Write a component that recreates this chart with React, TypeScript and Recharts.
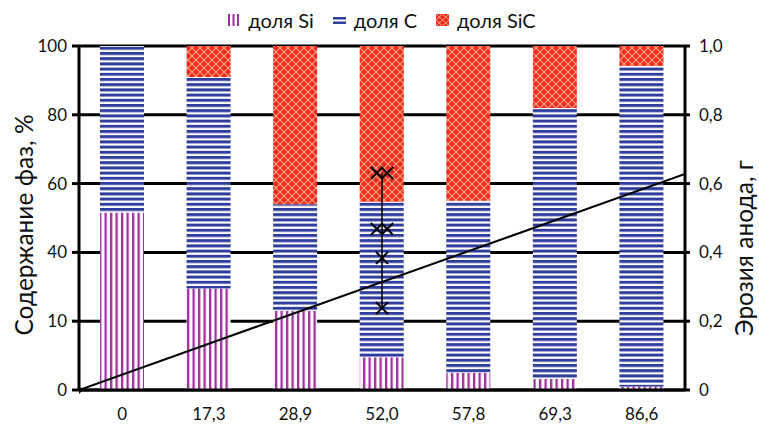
import React from "react";
import {
  ComposedChart,
  Bar,
  Scatter,
  XAxis,
  YAxis,
  CartesianGrid,
} from "recharts";

const categories = ["0", "17,3", "28,9", "52,0", "57,8", "69,3", "86,6"];
const siShare = [51.6, 29.5, 23.0, 9.5, 5.0, 3.3, 1.0];
const cShare = [48.4, 61.5, 31.0, 45.2, 50.0, 78.7, 93.2];
const sicShare = [0, 9.0, 46.0, 45.3, 45.0, 18.0, 5.8];

const leftTicks = [0, 20, 40, 60, 80, 100];
const leftTickLabels = ["0", "10", "40", "60", "80", "100"];
const rightTicks = [0, 0.2, 0.4, 0.6, 0.8, 1.0];
const rightTickLabels = ["0", "0,2", "0,4", "0,6", "0,8", "1,0"];

// trend line (x in category-position units 0..7, y in grams)
const trendX = [0, 7];
const trendY = [0, 0.628];

// erosion measurements at 52,0 (category index 3 -> centre 3.5)
const erosionX = [3.44, 3.56, 3.44, 3.56, 3.5, 3.5];
const erosionY = [0.631, 0.631, 0.468, 0.468, 0.384, 0.238];
const rangeX = [3.5, 3.5];
const rangeY = [0.631, 0.238];

const legendItems = ["доля Si", "доля C", "доля SiC"];

const data = categories.map((cat, i) => ({
  cat,
  si: siShare[i],
  c: cShare[i],
  sic: sicShare[i],
}));
const trendData = trendX.map((x, i) => ({ x, y: trendY[i] }));
const erosionData = erosionX.map((x, i) => ({ x, y: erosionY[i] }));
const rangeData = rangeX.map((x, i) => ({ x, y: rangeY[i] }));

const FONT = "Lato, 'Open Sans', sans-serif";

const Patterns = () => (
  <svg width={0} height={0} style={{ position: "absolute" }}>
    <defs>
      <pattern id="patSi" patternUnits="userSpaceOnUse" width={5.5} height={10}>
        <rect width={5.5} height={10} fill="#ffffff" />
        <rect x={0} y={0} width={2.3} height={10} fill="#9e2f9e" />
      </pattern>
      <pattern id="patC" patternUnits="userSpaceOnUse" width={10} height={5.2}>
        <rect width={10} height={5.2} fill="#ffffff" />
        <rect x={0} y={0} width={10} height={3} fill="#2f3d9c" />
      </pattern>
      <pattern id="patSiC" patternUnits="userSpaceOnUse" width={8} height={8}>
        <rect width={8} height={8} fill="#ee2a1e" />
        <path d="M0,0 L8,8 M8,0 L0,8" stroke="#f7a27e" strokeWidth={1.2} />
      </pattern>
    </defs>
  </svg>
);

const XMark = (props: any) => {
  const { cx, cy } = props;
  if (cx == null || cy == null) return null;
  const s = 6;
  return (
    <g>
      <path
        d={`M${cx - s},${cy - s} L${cx + s},${cy + s} M${cx + s},${cy - s} L${cx - s},${cy + s}`}
        stroke="#000"
        strokeWidth={2}
      />
    </g>
  );
};

const TrendMark = (props: any) => {
  const { cx, cy, payload } = props;
  if (!payload || payload.x !== 0) return null;
  const s = 4;
  return (
    <path
      d={`M${cx},${cy - s} L${cx + s},${cy} L${cx},${cy + s} L${cx - s},${cy} Z`}
      fill="#000"
    />
  );
};

const NoMark = () => null;

const swatch = (i: number) => {
  if (i === 0)
    return (
      <svg width={13} height={14}>
        <rect x={1} y={1} width={2} height={12} fill="#9e2f9e" />
        <rect x={5.5} y={1} width={2} height={12} fill="#9e2f9e" />
        <rect x={10} y={1} width={2} height={12} fill="#9e2f9e" />
      </svg>
    );
  if (i === 1)
    return (
      <svg width={13} height={14}>
        <rect x={0} y={4} width={13} height={2.5} fill="#2f3d9c" />
        <rect x={0} y={8.5} width={13} height={2.5} fill="#2f3d9c" />
      </svg>
    );
  return (
    <svg width={13} height={14}>
      <rect x={0} y={1} width={13} height={12} fill="#ee2a1e" />
      <path d="M0,1 L13,13 M13,1 L0,13 M6.5,1 L13,7 L6.5,13 L0,7 Z" stroke="#f7a27e" strokeWidth={1} fill="none" />
    </svg>
  );
};

export default function App() {
  return (
    <div
      style={{
        position: "absolute",
        left: 0,
        top: 0,
        width: 759,
        height: 424,
        background: "#fff",
        fontFamily: FONT,
      }}
    >
      <Patterns />
      <div
        style={{
          position: "absolute",
          top: 8,
          left: 0,
          width: 759,
          display: "flex",
          justifyContent: "center",
          alignItems: "center",
          fontSize: 20,
          color: "#111",
          gap: 19,
          paddingLeft: 2,
        }}
      >
        {legendItems.map((t, i) => (
          <div key={t} style={{ display: "flex", alignItems: "center", gap: 8 }}>
            {swatch(i)}
            <span>{t}</span>
          </div>
        ))}
      </div>
      <ComposedChart
        width={759}
        height={424}
        data={data}
        margin={{ top: 46, right: 0, bottom: 0, left: 0 }}
        style={{ fontFamily: FONT }}
      >
        <CartesianGrid
          xAxisId="c"
          yAxisId="l"
          vertical={false}
          horizontal
          stroke="#000"
          strokeWidth={3}
          horizontalValues={leftTicks}
        />
        <XAxis
          xAxisId="c"
          dataKey="cat"
          type="category"
          height={34}
          tickSize={0}
          tickMargin={18}
          axisLine={{ stroke: "#000", strokeWidth: 3 }}
          tick={{ fill: "#111", fontSize: 17 }}
          interval={0}
        />
        <XAxis xAxisId="n" dataKey="x" type="number" domain={[0, 7]} hide allowDataOverflow />
        <YAxis
          yAxisId="l"
          orientation="left"
          width={79}
          domain={[0, 100]}
          ticks={leftTicks}
          tickFormatter={(v: number) => leftTickLabels[leftTicks.indexOf(v)]}
          tickSize={7}
          tickMargin={5}
          interval={0}
          axisLine={{ stroke: "#000", strokeWidth: 3 }}
          tickLine={{ stroke: "#000", strokeWidth: 3 }}
          tick={{ fill: "#111", fontSize: 17 }}
          label={{
            content: () => (
              <text
                x={23}
                y={225}
                transform="rotate(-90 23 225)"
                textAnchor="middle"
                dominantBaseline="central"
                fontSize={24.5}
                fill="#111"
                fontFamily={FONT}
              >
                Содержание фаз, %
              </text>
            ),
          }}
        />
        <YAxis
          yAxisId="r"
          orientation="right"
          dataKey="y"
          width={74}
          domain={[0, 1]}
          ticks={rightTicks}
          tickFormatter={(v: number) => rightTickLabels[rightTicks.indexOf(v)]}
          tickSize={5}
          tickMargin={9}
          interval={0}
          axisLine={{ stroke: "#000", strokeWidth: 3 }}
          tickLine={{ stroke: "#000", strokeWidth: 3 }}
          tick={{ fill: "#111", fontSize: 17 }}
          label={{
            content: () => (
              <text
                x={743}
                y={248}
                transform="rotate(-90 743 248)"
                textAnchor="middle"
                dominantBaseline="central"
                fontSize={24.5}
                fill="#111"
                fontFamily={FONT}
              >
                Эрозия анода, г
              </text>
            ),
          }}
        />
        <Bar xAxisId="c" yAxisId="l" dataKey="si" stackId="a" barSize={44} fill="url(#patSi)" isAnimationActive={false} />
        <Bar xAxisId="c" yAxisId="l" dataKey="c" stackId="a" barSize={44} fill="url(#patC)" isAnimationActive={false} />
        <Bar xAxisId="c" yAxisId="l" dataKey="sic" stackId="a" barSize={44} fill="url(#patSiC)" isAnimationActive={false} />
        <Scatter
          xAxisId="n"
          yAxisId="r"
          data={trendData}
          line={{ stroke: "#000", strokeWidth: 2 }}
          shape={TrendMark}
          isAnimationActive={false}
        />
        <Scatter
          xAxisId="n"
          yAxisId="r"
          data={rangeData}
          line={{ stroke: "#000", strokeWidth: 1.5 }}
          shape={NoMark}
          isAnimationActive={false}
        />
        <Scatter
          xAxisId="n"
          yAxisId="r"
          data={erosionData}
          shape={XMark}
          isAnimationActive={false}
        />
      </ComposedChart>
    </div>
  );
}
